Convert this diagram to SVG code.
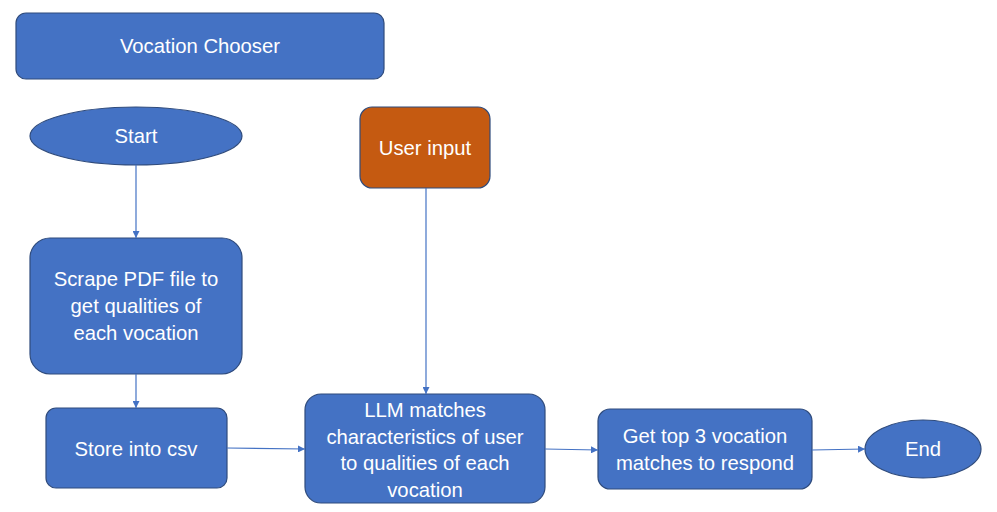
<svg xmlns="http://www.w3.org/2000/svg" width="997" height="512" viewBox="0 0 997 512">
<style>
.n{fill:#4472C4;stroke:#2F4B7C;stroke-width:1.2}
.o{fill:#C55A11;stroke:#2F4B7C;stroke-width:1.2}
.t{fill:#fff;font-family:"Liberation Sans",Arial,sans-serif;font-size:20.3px;text-anchor:middle;dominant-baseline:central}
.c{stroke:#4472C4;stroke-width:1.2;fill:none;marker-end:url(#a)}
</style>
<defs>
<marker id="a" viewBox="0 0 10 10" refX="10" refY="5" markerWidth="7" markerHeight="7" markerUnits="userSpaceOnUse" orient="auto">
<path d="M0,0L10,5L0,10z" fill="#4472C4"/>
</marker>
</defs>
<rect width="997" height="512" fill="#fff"/>
<g id="title"><rect class="n" x="16" y="13" width="368" height="66" rx="10"/><text class="t" x="200" y="46">Vocation Chooser</text></g>
<g id="start"><ellipse class="n" cx="136" cy="136" rx="106" ry="29"/><text class="t" x="136" y="136">Start</text></g>
<g id="scrape"><rect class="n" x="30" y="238" width="212" height="136" rx="20"/><text class="t" x="136" y="279">Scrape PDF file to</text><text class="t" x="136" y="306">get qualities of</text><text class="t" x="136" y="333">each vocation</text></g>
<g id="store"><rect class="n" x="46" y="408" width="181" height="80" rx="10"/><text class="t" x="136" y="449">Store into csv</text></g>
<g id="user"><rect class="o" x="360" y="107" width="130" height="81" rx="12"/><text class="t" x="425" y="148">User input</text></g>
<g id="llm"><rect class="n" x="305" y="394" width="240" height="109" rx="16"/><text class="t" x="425" y="410">LLM matches</text><text class="t" x="425" y="437">characteristics of user</text><text class="t" x="425" y="463">to qualities of each</text><text class="t" x="425" y="490">vocation</text></g>
<g id="top3"><rect class="n" x="598" y="409" width="214" height="80" rx="12"/><text class="t" x="705" y="436">Get top 3 vocation</text><text class="t" x="705" y="463">matches to respond</text></g>
<g id="end"><ellipse class="n" cx="923" cy="449" rx="58" ry="29"/><text class="t" x="923" y="449">End</text></g>
<g id="connectors">
<path class="c" d="M136,165V238"/>
<path class="c" d="M136,374V408"/>
<path class="c" d="M227,448L305,449"/>
<path class="c" d="M426,188V394"/>
<path class="c" d="M545,449L598,450"/>
<path class="c" d="M812,450L865,449"/>
</g>
</svg>
